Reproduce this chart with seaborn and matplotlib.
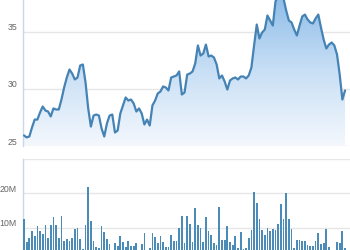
import numpy as np
import pandas as pd
import matplotlib
matplotlib.use('Agg')
import matplotlib.pyplot as plt
import matplotlib.transforms as mtransforms
from matplotlib.colors import LinearSegmentedColormap
import seaborn as sns

# ---- data ----
price = [25.92, 25.75, 25.83, 26.62, 27.31, 27.31, 27.93, 28.45, 28.10, 28.01,
         27.58, 28.28, 28.19, 28.19, 29.06, 30.11, 30.98, 31.68, 31.33, 30.81,
         30.98, 32.03, 32.12, 30.55, 28.28, 26.70, 27.66, 27.75, 27.66, 26.53,
         25.83, 26.97, 27.66, 27.75, 26.18, 26.35, 27.84, 28.54, 29.24, 28.97,
         29.06, 28.71, 28.01, 28.28, 27.84, 26.88, 27.31, 26.79, 28.54, 28.97,
         29.59, 29.76, 30.20, 30.11, 29.85, 30.98, 31.07, 31.16, 31.51, 29.50,
         29.67, 31.24, 31.33, 31.51, 32.21, 33.78, 32.90, 33.08, 33.86, 32.82,
         32.90, 32.73, 32.12, 30.90, 31.16, 30.63, 29.93, 30.72, 30.90, 30.98,
         30.81, 31.07, 31.07, 30.90, 31.16, 31.86, 33.78, 35.61, 34.39, 34.91,
         35.17, 36.40, 35.96, 35.52, 37.62, 38.14, 38.23, 37.88, 36.83, 35.96,
         35.79, 35.17, 34.65, 35.52, 36.31, 36.48, 36.05, 35.79, 35.70, 36.14,
         36.48, 35.35, 34.30, 33.52, 33.86, 34.04, 33.78, 32.99, 31.24, 29.06,
         29.85]
volume_m = [12.4, 5.7, 7.1, 9.1, 7.6, 10.4, 9.1, 8.2, 10.7, 7.1,
            10.7, 13.1, 10.7, 7.1, 13.5, 6.2, 6.7, 6.0, 7.1, 9.5,
            9.8, 6.7, 3.8, 10.7, 21.8, 11.8, 6.2, 4.5, 4.1, 10.4,
            8.6, 6.7, 5.3, 2.5, 5.5, 4.7, 7.6, 5.7, 4.3, 6.2,
            4.7, 4.7, 5.5, 2.5, 5.3, 8.4, 2.0, 4.1, 8.4, 7.3,
            5.5, 7.6, 5.7, 4.3, 4.3, 8.0, 6.0, 6.0, 9.8, 13.5,
            5.5, 13.5, 11.2, 5.9, 15.8, 10.9, 9.9, 5.7, 13.1, 8.9,
            7.8, 5.5, 5.0, 16.1, 6.3, 6.5, 10.6, 5.7, 5.0, 7.6,
            4.0, 8.6, 3.8, 4.0, 7.0, 9.2, 20.4, 17.3, 12.5, 9.2,
            7.9, 10.0, 9.1, 9.7, 9.4, 11.2, 16.8, 12.5, 20.2, 12.4,
            9.7, 4.0, 6.5, 6.5, 6.0, 6.2, 4.9, 4.7, 4.7, 6.2,
            8.4, 5.3, 5.5, 9.7, 4.3, 2.5, 2.8, 5.7, 5.5, 9.1,
            4.0]
price_ticks = [25, 30, 35, 40]
price_tick_labels = ['25', '30', '35', '']
volume_ticks = [0, 10e6, 20e6, 30e6]
volume_tick_labels = ['', '10M', '20M', '']

n = len(price)
df = pd.DataFrame({'day': np.arange(n),
                   'close': price,
                   'volume': np.array(volume_m) * 1e6})

sns.set_style('white')
plt.rcParams['font.family'] = ['Liberation Sans', 'DejaVu Sans']

W, H = 350, 250
fig = plt.figure(figsize=(W / 100, H / 100), dpi=100)


def px_axes(left, top, right, bottom):
    return fig.add_axes([left / W, 1 - bottom / H, (right - left) / W, (bottom - top) / H])


ax1 = px_axes(23, -25.75, 352, 146)
ax2 = px_axes(23, 159, 352, 262)

line_color = '#4583b5'
bar_color = '#4a8bb8'
grid_color = '#e6e6e6'
axis_color = '#ccd6eb'
label_color = '#666666'

xmin, xmax = -0.374, 122.6

# ---- price panel ----
fill = ax1.fill_between(df['day'], df['close'], 25, color='none', lw=0)
grad = np.linspace(0, 1, 256).reshape(-1, 1)
cmap = LinearSegmentedColormap.from_list('g', ['#f4f8fd', '#c8dff5', '#8cbce9'])
im = ax1.imshow(grad, extent=[0, n - 1, 25, max(price)], origin='lower',
                aspect='auto', cmap=cmap, zorder=1)
im.set_clip_path(fill.get_paths()[0], transform=ax1.transData)
sns.lineplot(data=df, x='day', y='close', ax=ax1, color=line_color, lw=1.6, zorder=3)
ax1.set_xlim(xmin, xmax)
ax1.set_ylim(25, 40)
ax1.set_yticks(price_ticks)
ax1.set_yticklabels(price_tick_labels)
ax1.set_xticks([])

# ---- volume panel ----
sns.barplot(data=df, x='day', y='volume', ax=ax2, color=bar_color, saturation=1,
            width=0.65, native_scale=True, linewidth=0, zorder=3)
ax2.set_xlim(xmin, xmax)
ax2.set_ylim(0, 30e6)
ax2.set_yticks(volume_ticks)
ax2.set_yticklabels(volume_tick_labels)
ax2.set_xticks([])

for ax in (ax1, ax2):
    ax.set_xlabel('')
    ax.set_ylabel('')
    ax.set_facecolor('white')
    ax.grid(axis='y', color=grid_color, lw=1, zorder=0)
    ax.grid(axis='x', visible=False)
    ax.set_axisbelow(True)
    for s in ('top', 'right', 'bottom'):
        ax.spines[s].set_visible(False)
    ax.spines['left'].set_color(axis_color)
    ax.spines['left'].set_linewidth(1)
    ax.tick_params(axis='y', length=0, pad=4.3, labelsize=6.3, labelcolor=label_color)

offset = mtransforms.ScaledTranslation(0, 5 / 100, fig.dpi_scale_trans)
for ax in (ax1, ax2):
    for lab in ax.get_yticklabels():
        lab.set_transform(lab.get_transform() + offset)

fig.savefig('out.png', dpi=100)
